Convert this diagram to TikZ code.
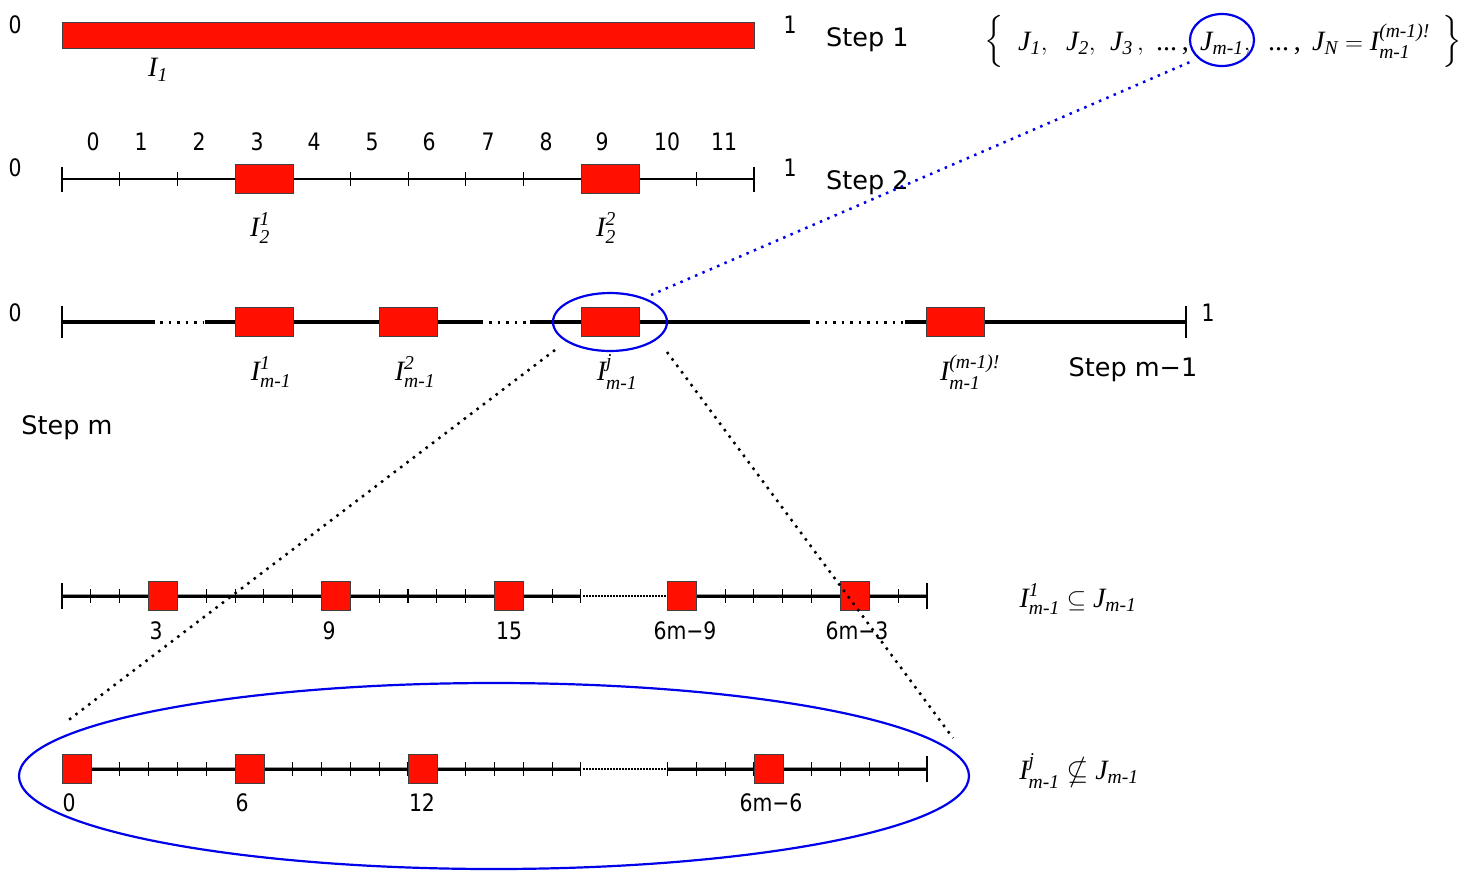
\documentclass[tikz,border=0pt]{standalone}
\usepackage{amsmath,amssymb}
\usepackage{fontspec}
\newfontfamily\sfont{DejaVu Sans}
\newfontfamily\numfont[FakeStretch=0.85]{DejaVu Sans}
\newfontfamily\ser{Liberation Serif}
\usetikzlibrary{shapes.geometric}
\definecolor{boxred}{RGB}{255,16,0}
\definecolor{hlblue}{RGB}{0,0,235}
\newcommand\si[1]{\text{\ser\itshape #1}}
\newcommand\mone{\si{m-1}}
\tikzset{
  redbox/.style={draw=black!75, line width=0.6pt, fill=boxred, inner sep=0pt},
  wbox/.style={redbox, minimum width=58pt, minimum height=29pt},
  sqbox/.style={redbox, minimum width=28.8pt, minimum height=29pt},
  num/.style={font=\numfont\fontsize{24}{24}\selectfont, inner sep=0pt},
  steplbl/.style={font=\sfont\fontsize{25.5}{26}\selectfont, inner sep=0pt},
  mlbl/.style={font=\fontsize{28}{30}\selectfont, inner sep=0pt},
  setpart/.style={font=\fontsize{28}{30}\selectfont, inner sep=0pt, anchor=base west},
  brace/.style={font=\fontsize{29}{29}\selectfont, inner sep=0pt},
  axisA/.style={line width=2.5pt},
  axisB/.style={line width=3.5pt},
  halo/.style={draw=black!40, line width=4.8pt},
  core/.style={line width=3pt},
  finedots/.style={line width=2.5pt, dash pattern=on 1.5pt off 1.5pt},
  gapdots/.style={line width=3pt, dash pattern=on 2.5pt off 6pt},
  tickmark/.style={line width=1pt},
  endtick/.style={line width=2.5pt},
  hl/.style={draw=hlblue, line width=2.2pt, ellipse, inner sep=0pt},
  link/.style={line width=2.5pt, dash pattern=on 2.5pt off 5.5pt},
}
\begin{document}
\begin{tikzpicture}[x=1pt,y=-1pt]
\useasboundingbox (0,0) rectangle (1484,871);

% ---------- Step 1 ----------
\node[num] (s1a) at (15,25) {0};
\node[num] (s1b) at (790,25) {1};
\node[redbox, minimum width=692pt, minimum height=26pt] (bar1) at (408,35) {};
\node[mlbl] (i1) at (158,70) {$\si{I}_{\si{1}}$};
\node[steplbl, anchor=west] (st1) at (826,40) {Step 1};
\node[brace] (lbr) at (994,41) {$\Big\{$};
\node[brace] (rbr) at (1452,41) {$\Big\}$};
\node[setpart] (f1) at (1018,50) {$\si{J}_{\si{1}},$};
\node[setpart] (f2) at (1066,50) {$\si{J}_{\si{2}},$};
\node[setpart] (f3) at (1110,50) {$\si{J}_{\si{3}}\,,$};
\node[setpart] (f4) at (1156,50) {\ser ...\,,};
\node[setpart] (f5) at (1200,50) {$\si{J}_{\mone}$,};
\node[setpart] (f6) at (1268,50) {\ser ...\,,};
\node[setpart] (f7) at (1312,50) {$\si{J}_{\si{N}} = \si{I}^{\si{(m-1)!}}_{\mone}$};
\node[hl, minimum width=64pt, minimum height=52pt] (ejt) at (1222,40) {};

% ---------- Step 2 ----------
\node[num] (s2a) at (15,168) {0};
\node[num] (s2b) at (790,168) {1};
\draw[axisA] (62,179) -- (754,179);
\foreach \k in {1,...,11} \draw[tickmark] ({62+57.667*\k},172) -- ({62+57.667*\k},186);
\draw[endtick] (62,166.5) -- (62,191.5);
\draw[endtick] (754,166.5) -- (754,191.5);
\foreach \k/\xx in {0/93,1/141,2/199,3/257,4/314,5/372,6/429,7/488,8/546,9/602,10/667,11/724}
  \node[num] (n\k) at (\xx,142) {\k};
\node[wbox] (b21) at (264,179) {};
\node[wbox] (b22) at (610,179) {};
\node[mlbl] (i21) at (260,228) {$\si{I}^{\si{1}}_{\si{2}}$};
\node[mlbl] (i22) at (606,228) {$\si{I}^{\si{2}}_{\si{2}}$};
\node[steplbl, anchor=west] (st2) at (826,183) {Step 2};

% ---------- Step m-1 ----------
\node[num] (s3a) at (15,313) {0};
\node[num] (s3b) at (1208,313) {1};
\draw[axisB] (62,322) -- (155,322);
\draw[gapdots] (160,322) -- (203,322);
\draw[axisB] (205,322) -- (483,322);
\draw[gapdots] (489,322) -- (528,322);
\draw[axisB] (530,322) -- (810,322);
\draw[gapdots] (816,322) -- (903,322);
\draw[axisB] (905,322) -- (1186,322);
\draw[endtick] (62,306) -- (62,338);
\draw[endtick] (1186,306) -- (1186,338);
\node[wbox] (b31) at (264,322) {};
\node[wbox] (b32) at (408,322) {};
\node[wbox] (b3j) at (610,322) {};
\node[wbox] (b3n) at (955,322) {};
\node[mlbl] (i31) at (271,372) {$\si{I}^{\si{1}}_{\mone}$};
\node[mlbl] (i32) at (415,372) {$\si{I}^{\si{2}}_{\mone}$};
\node[mlbl] (i3j) at (617,372) {$\si{I}^{\si{j}}_{\mone}$};
\node[mlbl] (i3n) at (970,372) {$\si{I}^{\si{(m-1)!}}_{\mone}$};
\node[steplbl] (st3) at (1133,370) {Step m−1};
\node[hl, minimum width=114pt, minimum height=58pt] (ej) at (610,322) {};

% ---------- Step m ----------
\node[steplbl] (stm) at (67,428) {Step m};

% row 1
\draw[halo] (62,596) -- (581,596);
\draw[halo] (667,596) -- (927,596);
\draw[core] (62,596) -- (581,596);
\draw[core] (667,596) -- (927,596);
\draw[finedots] (583,596) -- (666,596);
\foreach \k in {1,...,18,21,22,...,29} \draw[tickmark] ({62+28.833*\k},589) -- ({62+28.833*\k},603);
\draw[endtick] (62,583) -- (62,609);
\draw[endtick] (927,583) -- (927,609);
\foreach \k/\nm in {3/a,9/b,15/c,21/d,27/e}
  \node[sqbox] (r1\nm) at ({62+28.833*(\k+0.5)},596) {};
\node[num] (l1a) at (156,631) {3};
\node[num] (l1b) at (329,631) {9};
\node[num] (l1c) at (509,631) {15};
\node[num] (l1d) at (685,631) {6m−9};
\node[num] (l1e) at (857,631) {6m−3};
\node[mlbl] (rel1) at (1078,599) {$\si{I}^{\si{1}}_{\mone} \subseteq \si{J}_{\mone}$};

% row 2
\draw[halo] (62,769) -- (581,769);
\draw[halo] (667,769) -- (927,769);
\draw[core] (62,769) -- (581,769);
\draw[core] (667,769) -- (927,769);
\draw[finedots] (583,769) -- (666,769);
\foreach \k in {1,...,18,21,22,...,29} \draw[tickmark] ({62+28.833*\k},762) -- ({62+28.833*\k},776);
\draw[endtick] (927,756) -- (927,782);
\foreach \k/\nm in {0/a,6/b,12/c,24/d}
  \node[sqbox] (r2\nm) at ({62+28.833*(\k+0.5)},769) {};
\node[num] (l2a) at (69,803) {0};
\node[num] (l2b) at (242,803) {6};
\node[num] (l2c) at (422,803) {12};
\node[num] (l2d) at (771,803) {6m−6};
\node[mlbl] (rel2) at (1079,771) {$\si{I}^{\si{j}}_{\mone} \nsubseteq \si{J}_{\mone}$};
\node[hl, minimum width=950pt, minimum height=186pt] (big) at (494,776) {};

% ---------- connectors ----------
\coordinate (lA) at (555,350);
\coordinate (lB) at (66,722);
\coordinate (rA) at (667,352);
\coordinate (rB) at (953,738);
\coordinate (bA) at (651,295);
\coordinate (bB) at (1190,62);
\draw[link] (lA) -- (lB);
\draw[link] (rA) -- (rB);
\draw[link, hlblue] (bA) -- (bB);
\end{tikzpicture}
\end{document}
